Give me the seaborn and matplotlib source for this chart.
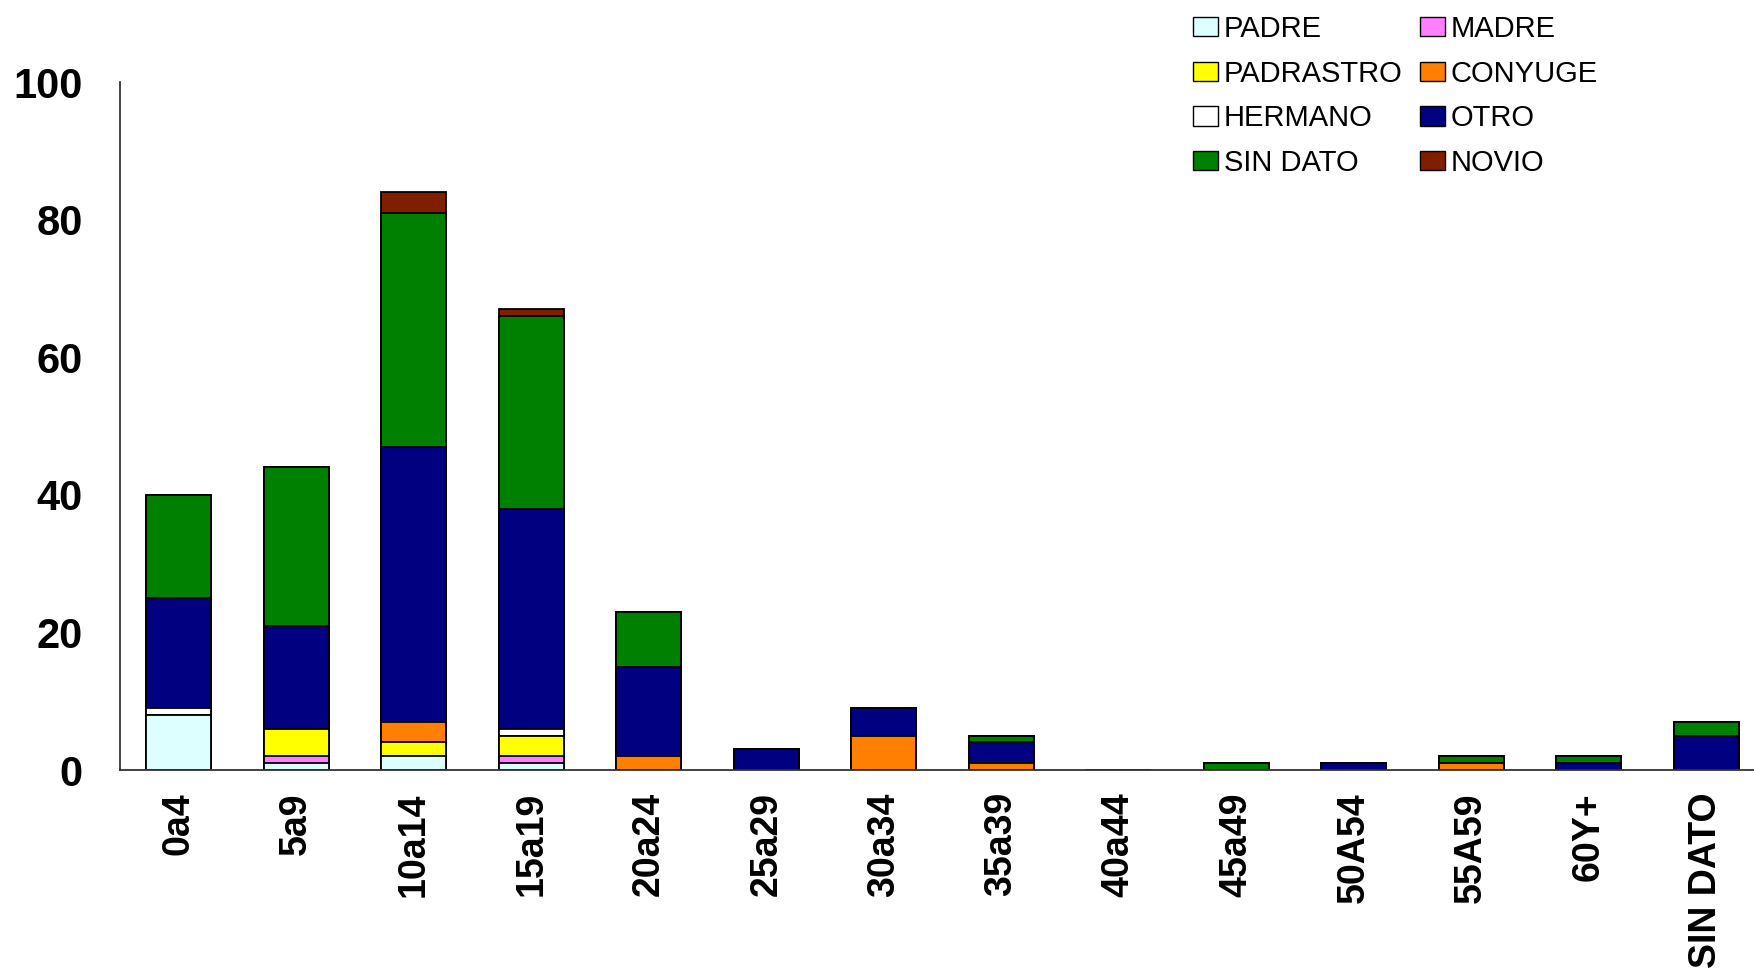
import numpy as np
import matplotlib
matplotlib.use("Agg")
import matplotlib.pyplot as plt
import seaborn as sns
from matplotlib.patches import Patch

ages = ["0a4", "5a9", "10a14", "15a19", "20a24", "25a29", "30a34",
        "35a39", "40a44", "45a49", "50A54", "55A59", "60Y+", "SIN DATO"]

# one array per relationship, stacked bottom -> top in this order
padre      = [8, 1, 2, 1, 0, 0, 0, 0, 0, 0, 0, 0, 0, 0]
madre      = [0, 1, 0, 1, 0, 0, 0, 0, 0, 0, 0, 0, 0, 0]
padrastro  = [0, 4, 2, 3, 0, 0, 0, 0, 0, 0, 0, 0, 0, 0]
conyuge    = [0, 0, 3, 0, 2, 0, 5, 1, 0, 0, 0, 1, 0, 0]
hermano    = [1, 0, 0, 1, 0, 0, 0, 0, 0, 0, 0, 0, 0, 0]
otro       = [16, 15, 40, 32, 13, 3, 4, 3, 0, 0, 1, 0, 1, 5]
sin_dato   = [15, 23, 34, 28, 8, 0, 0, 1, 0, 1, 0, 1, 1, 2]
novio      = [0, 0, 3, 1, 0, 0, 0, 0, 0, 0, 0, 0, 0, 0]

names = ["PADRE", "MADRE", "PADRASTRO", "CONYUGE", "HERMANO", "OTRO", "SIN DATO", "NOVIO"]
series = [padre, madre, padrastro, conyuge, hermano, otro, sin_dato, novio]
colors = ["#DDFFFF", "#FF80FF", "#FFFF00", "#FF8000", "#FFFFFF", "#000080", "#008000", "#801E00"]

sns.set_style("white")
plt.rcParams["font.family"] = ["Liberation Sans", "DejaVu Sans"]
plt.rcParams["text.color"] = "black"

fig = plt.figure(figsize=(17.54, 9.73), dpi=100)
# plot area runs slightly past the right edge of the image, as in the original
ax = fig.add_axes([120 / 1754, (973 - 770) / 973, (1765 - 120) / 1754, (770 - 82) / 973])

cum = np.cumsum(np.array(series), axis=0)
# draw tallest stack first so lower segments sit on top
for i in range(len(series) - 1, -1, -1):
    sns.barplot(x=ages, y=cum[i], color=colors[i], saturation=1, width=0.55,
                edgecolor="black", linewidth=1.3, ax=ax)

ax.set_ylim(0, 100)
ax.set_xlim(-0.5, 13.5)
ax.set_yticks([0, 20, 40, 60, 80, 100])
ax.set_xlabel("")
ax.set_ylabel("")
ax.tick_params(axis="y", length=0, pad=27, labelsize=30, labelcolor="black")
ax.tick_params(axis="x", length=0, pad=16, labelsize=27, labelcolor="black")
for lbl in ax.get_xticklabels():
    lbl.set_rotation(90)
    lbl.set_fontweight("bold")
    lbl.set_va("top")
for lbl in ax.get_yticklabels():
    lbl.set_fontweight("bold")

sns.despine(ax=ax, top=True, right=True)
for s in ["left", "bottom"]:
    ax.spines[s].set_color("#333333")
    ax.spines[s].set_linewidth(1.3)

# legend filled row-wise in the reference -> reorder for column-major filling
handles = [Patch(facecolor=c, edgecolor="black", linewidth=1.0) for c in colors]
order = [0, 2, 4, 6, 1, 3, 5, 7]
fig.legend([handles[k] for k in order], [names[k] for k in order],
           ncol=2, loc="upper left", bbox_to_anchor=(1193 / 1754, 1 - 15 / 973),
           frameon=False, fontsize=21, borderpad=0, borderaxespad=0,
           handlelength=0.85, handleheight=0.65, handletextpad=0.2,
           labelspacing=0.57, columnspacing=0.6)

fig.savefig("out.png", dpi=100)
